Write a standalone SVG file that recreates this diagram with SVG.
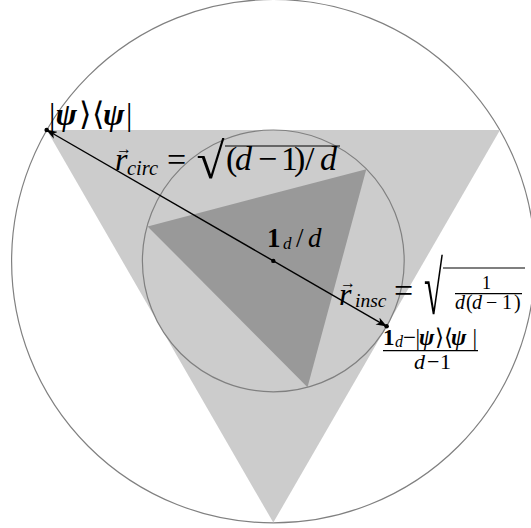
<svg xmlns="http://www.w3.org/2000/svg" width="531" height="528" viewBox="0 0 531 528">
<style>
.t{font-family:"Liberation Serif","DejaVu Serif","DejaVu Sans",serif;fill:#000}
.i{font-style:italic}
.b{font-weight:bold}
.circ{fill:none;stroke:#808080;stroke-width:1.2}
.rule{stroke:#000;stroke-width:1.2}
</style>
<defs>
<marker id="ah" viewBox="0 0 11 8" refX="10.5" refY="4" markerWidth="11" markerHeight="8" markerUnits="userSpaceOnUse" orient="auto-start-reverse">
<path d="M0,0 L11,4 L0,8 L3,4 Z" fill="#000"/>
</marker>
</defs>
<g id="outer-circle"><circle class="circ" cx="273.3" cy="261.2" r="261.7"/></g>
<g id="big-triangle"><polygon points="46.7,130 500,130 273.3,522.6" fill="#cccccc"/></g>
<g id="small-triangle"><polygon points="147.6,226.4 366.3,169.2 307.5,387.3" fill="#999999"/></g>
<g id="inner-circle"><circle class="circ" cx="273.3" cy="260.9" r="130.9"/></g>
<g id="connectors">
<line x1="46.7" y1="130" x2="386.6" y2="326.3" stroke="#000" stroke-width="1.4" marker-start="url(#ah)" marker-end="url(#ah)"/>
<circle cx="46.7" cy="130" r="2.3" fill="#000"/>
<circle cx="273.3" cy="260.9" r="2.2" fill="#000"/>
<circle cx="386.6" cy="326.3" r="2.3" fill="#000"/>
</g>
<g id="label-psi">
<text class="t" font-size="32" y="125"><tspan x="49">|</tspan><tspan x="55.5" class="i b">ψ</tspan><tspan x="79">⟩</tspan><tspan x="92">⟨</tspan><tspan x="103" class="i b">ψ</tspan><tspan x="126">|</tspan></text>
</g>
<g id="label-rcirc">
<text class="t" font-size="16" x="116" y="154">→</text>
<text class="t" font-size="32"><tspan class="i" x="115" y="170">r</tspan><tspan class="i" font-size="20.5" x="127" y="175">circ</tspan><tspan font-size="34" x="167" y="171">=</tspan><tspan font-size="51" x="196.5" y="177.5">√</tspan><tspan font-size="34" x="226" y="170">(</tspan><tspan class="i" font-size="34" x="235" y="170">d</tspan><tspan font-size="34" x="258" y="170">−</tspan><tspan font-size="34" x="281" y="170">1</tspan><tspan font-size="34" x="294" y="170">)</tspan><tspan font-size="34" x="305" y="170">/</tspan><tspan class="i" font-size="34" x="320" y="170">d</tspan></text>
<line class="rule" x1="225" y1="146" x2="340" y2="146"/>
</g>
<g id="label-center">
<text class="t" font-size="27"><tspan class="b" x="267" y="247">1</tspan><tspan class="i" font-size="17" x="283" y="249">d</tspan><tspan x="296" y="247">/</tspan><tspan class="i" x="308" y="247">d</tspan></text>
</g>
<g id="label-rinsc">
<text class="t" font-size="16" x="340" y="288">→</text>
<text class="t" font-size="32"><tspan class="i" x="339" y="305">r</tspan><tspan class="i" font-size="19.5" x="355" y="307">insc</tspan><tspan font-size="34" x="394" y="302">=</tspan></text>
<text class="t" font-size="34.5" transform="translate(424,313.5) scale(1,2.17)">√</text>
<line class="rule" x1="443" y1="268" x2="525" y2="268"/>
<text class="t" font-size="18"><tspan x="482" y="289">1</tspan><tspan class="i" font-size="20" x="455" y="309">d</tspan><tspan font-size="20" x="466" y="309">(</tspan><tspan class="i" font-size="20" x="472" y="309">d</tspan><tspan font-size="20" x="486" y="309">−</tspan><tspan font-size="20" x="502" y="309">1</tspan><tspan font-size="20" x="514" y="309">)</tspan></text>
<line class="rule" x1="455" y1="293.7" x2="522" y2="293.7"/>
</g>
<g id="label-vertex">
<text class="t" font-size="23"><tspan class="b" x="383" y="345">1</tspan><tspan class="i" font-size="16" x="395" y="347">d</tspan><tspan x="403" y="345">−</tspan><tspan x="415.5" y="345">|</tspan><tspan class="i b" x="419" y="345">ψ</tspan><tspan x="435" y="345">⟩</tspan><tspan x="444" y="345">⟨</tspan><tspan class="i b" x="451" y="345">ψ</tspan><tspan x="472.5" y="345">|</tspan><tspan class="i" font-size="22" x="414" y="368.7">d</tspan><tspan font-size="22" x="427" y="368.7">−</tspan><tspan font-size="22" x="440" y="368.7">1</tspan></text>
<line class="rule" x1="383" y1="350.7" x2="478" y2="350.7"/>
</g>
</svg>
